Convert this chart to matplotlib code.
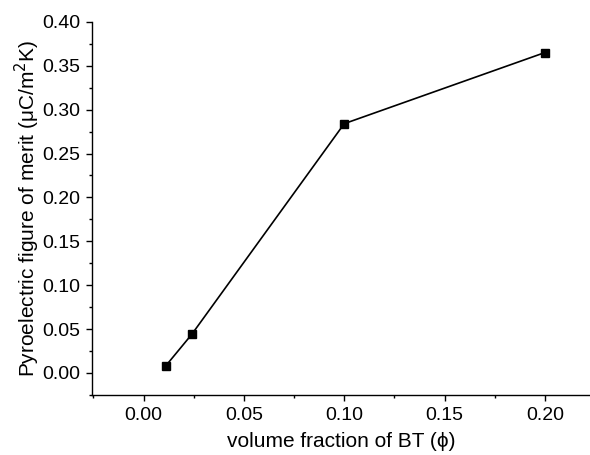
import numpy as np
import matplotlib.pyplot as plt
from matplotlib.ticker import MultipleLocator

plt.rcParams['font.family'] = ['Liberation Sans', 'DejaVu Sans']

# volume fraction of BT and pyroelectric figure of merit
phi = [0.011, 0.024, 0.10, 0.20]
fom = [0.008, 0.044, 0.284, 0.365]

fig = plt.figure(figsize=(5.9, 4.55), dpi=100)
ax = fig.add_axes([0.156, 0.132, 0.844, 0.820])

ax.plot(phi, fom, color='black', lw=1.2, marker='s', ms=5.3, mfc='black', mec='black')

ax.set_xlim(-0.0257, 0.2225)
ax.set_ylim(-0.025, 0.40)
ax.xaxis.set_major_locator(MultipleLocator(0.05))
ax.xaxis.set_minor_locator(MultipleLocator(0.025))
ax.yaxis.set_major_locator(MultipleLocator(0.05))
ax.yaxis.set_minor_locator(MultipleLocator(0.025))
ax.xaxis.set_major_formatter(plt.FormatStrFormatter('%.2f'))
ax.yaxis.set_major_formatter(plt.FormatStrFormatter('%.2f'))

for s in ['top', 'right']:
    ax.spines[s].set_visible(False)
for s in ['left', 'bottom']:
    ax.spines[s].set_linewidth(1.0)

ax.tick_params(which='major', direction='out', length=4.5, width=1.0, labelsize=14, pad=4)
ax.tick_params(which='minor', direction='out', length=2.5, width=1.0)

ax.set_xlabel('volume fraction of BT (\u03d5)', fontsize=15, labelpad=6)
ax.set_ylabel('Pyroelectric figure of merit (\u03bcC/m$^2$K)', fontsize=15, labelpad=0)

plt.savefig('out.png', dpi=100)
